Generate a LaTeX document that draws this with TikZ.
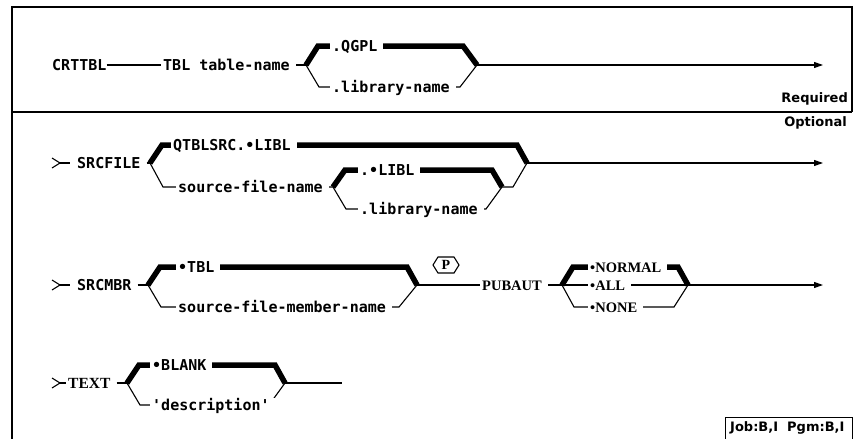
\documentclass[tikz,border=0pt]{standalone}
\usepackage{fontspec}
\setmonofont{DejaVu Sans Mono}
\newfontfamily\serifbf{Liberation Serif}[UprightFont={* Bold}]
\newfontfamily\sansbf{DejaVu Sans}
\usetikzlibrary{arrows.meta,calc,backgrounds}
\begin{document}
\begin{tikzpicture}[x=1pt,y=-1pt,
 plbase/.style={font=\ttfamily\bfseries\fontsize{15}{15}\selectfont, fill=white, inner xsep=2pt, inner ysep=2pt, text height=11pt, text depth=0pt, anchor=west},
 pl/.style={plbase, execute at end node={\hspace{4pt}}},
 sl/.style={font=\serifbf\fontsize{14.5}{14.5}\selectfont, fill=white, inner xsep=2pt, inner ysep=2pt, text height=10pt, text depth=0pt, anchor=west, execute at end node={\hspace{4pt}}},
 hl/.style={font=\sansbf\bfseries\fontsize{13}{13}\selectfont, inner sep=1pt},
 thk/.style={line width=5.5pt, miter limit=20},
 thn/.style={line width=1.1pt},
 flow/.style={thn, -{Triangle[length=9pt,width=6pt]}},
 frame/.style={line width=1.3pt},
]
\useasboundingbox (0,0) rectangle (854,439);

% ---------- row 1 ----------
\node[plbase, inner xsep=0pt] (crt) at (52,65) {CRTTBL};
\node[pl] (tbl) at (161,65) {TBL table-name};
\coordinate (j1) at (306,65);
\coordinate (r1) at (477,65);
\coordinate (e1) at (823,65);
\node[pl] (q1) at (330,46) {.QGPL};
\node[pl] (q2) at (330,87) {.library-name};

% ---------- row 2 ----------
\node[pl] (sf) at (75,163) {SRCFILE};
\coordinate (g2) at (60,163);
\coordinate (j2) at (150,163);
\coordinate (r2) at (527,163);
\coordinate (e2) at (823,163);
\node[pl] (qs) at (171,145) {QTBLSRC.•LIBL};
\node[pl] (sfn) at (176,187) {source-file-name};
\coordinate (j3) at (333,187);
\coordinate (r3) at (502,187);
\node[pl] (ll) at (358,170) {.•LIBL};
\node[pl] (ln) at (358,209) {.library-name};

% ---------- row 3 ----------
\node[pl] (sm) at (75,285) {SRCMBR};
\coordinate (g3) at (60,285);
\coordinate (j4) at (148,285);
\coordinate (r4) at (417,285);
\node[pl] (tb) at (176,267) {•TBL};
\node[pl] (sfm) at (176,307) {source-file-member-name};
\node[font=\serifbf\fontsize{14}{14}\selectfont, inner sep=0pt] (p) at (446,265) {P};
\node[sl] (pub) at (480,285) {PUBAUT};
\coordinate (j5) at (562,285);
\coordinate (r5) at (688,285);
\coordinate (e5) at (823,285);
\node[sl] (nor) at (588,267) {•NORMAL};
\node[sl] (all) at (588,285) {•ALL};
\node[sl] (non) at (588,307) {•NONE};

% ---------- row 4 ----------
\node[sl, font=\serifbf\fontsize{15.5}{15.5}\selectfont] (tx) at (66,383) {TEXT};
\coordinate (g4) at (60,383);
\coordinate (j6) at (127,383);
\coordinate (r6) at (285,383);
\coordinate (e6) at (342,383);
\node[pl] (bl) at (150,365) {•BLANK};
\node[pl] (de) at (150,405) {'description'};

% ---------- labels ----------
\node[hl, anchor=east] (req) at (849,99) {Required};
\node[hl, anchor=east] (opt) at (848,123) {Optional};
\node[hl, anchor=west] (job) at (729,428) {Job:B,I\ \ Pgm:B,I};

\begin{scope}[on background layer]
% frame
\draw[frame] (12,439) -- (12,7) -- (852,7) -- (852,112);
\draw[frame] (12,112) -- (852,112);
\draw[line width=1pt] (725,440) -- (725,417) -- (852,417) -- (852,440);

% row 1
\draw[thn] (crt.east) -- (tbl.west);
\draw[thn] (tbl.east) -- (j1);
\draw[thk] (j1) -- ++(12,-19) -- ($(r1)+(-14,-19)$) -- (r1);
\draw[thn] (j1) -- ++(13,22) -- ($(r1)+(-17,22)$) -- (r1);
\draw[flow] (r1) -- (e1);

% row 2
\draw[thn] ($(g2)+(-8,-5)$) -- (g2) -- ($(g2)+(-8,5)$);
\draw[thn] (g2) -- ++(10,0);
\draw[thn] (sf.east) -- (j2);
\draw[thk] (j2) -- ++(12,-18) -- ($(r2)+(-10,-18)$) -- (r2);
\draw[thn] (j2) -- ++(13,24) -- (j3);
\draw[thk] (j3) -- ++(12,-17) -- ($(r3)+(-10,-17)$) -- (r3);
\draw[thn] (j3) -- ++(13,22) -- ($(r3)+(-16,22)$) -- (r3);
\draw[thn] (r3) -- ++(11,0) -- (r2);
\draw[flow] (r2) -- (e2);

% row 3
\draw[thn] ($(g3)+(-8,-5)$) -- (g3) -- ($(g3)+(-8,5)$);
\draw[thn] (g3) -- ++(10,0);
\draw[thn] (sm.east) -- (j4);
\draw[thk] (j4) -- ++(12,-18) -- ($(r4)+(-10,-18)$) -- (r4);
\draw[thn] (j4) -- ++(13,22) -- ($(r4)+(-18,22)$) -- (r4);
\draw[thn] (r4) -- (pub.west);
\draw[thn] ($(p)+(-13,0)$) -- ++(5,-8) -- ++(16,0) -- ++(5,8) -- ++(-5,8) -- ++(-16,0) -- cycle;
\draw[thn] (pub.east) -- (j5);
\draw[thk] (j5) -- ++(11,-18) -- ($(r5)+(-10,-18)$) -- (r5);
\draw[thn] (j5) -- (r5);
\draw[thn] (j5) -- ++(12,22) -- ($(r5)+(-14,22)$) -- (r5);
\draw[flow] (r5) -- (e5);

% row 4
\draw[thn] ($(g4)+(-8,-5)$) -- (g4) -- ($(g4)+(-8,5)$);
\draw[thn] (g4) -- ++(6,0);
\draw[thn] (tx.east) -- (j6);
\draw[thk] (j6) -- ++(12,-18) -- ($(r6)+(-10,-18)$) -- (r6);
\draw[thn] (j6) -- ++(13,22) -- ($(r6)+(-16,22)$) -- (r6);
\draw[thn] (r6) -- (e6);
\end{scope}
\end{tikzpicture}
\end{document}
